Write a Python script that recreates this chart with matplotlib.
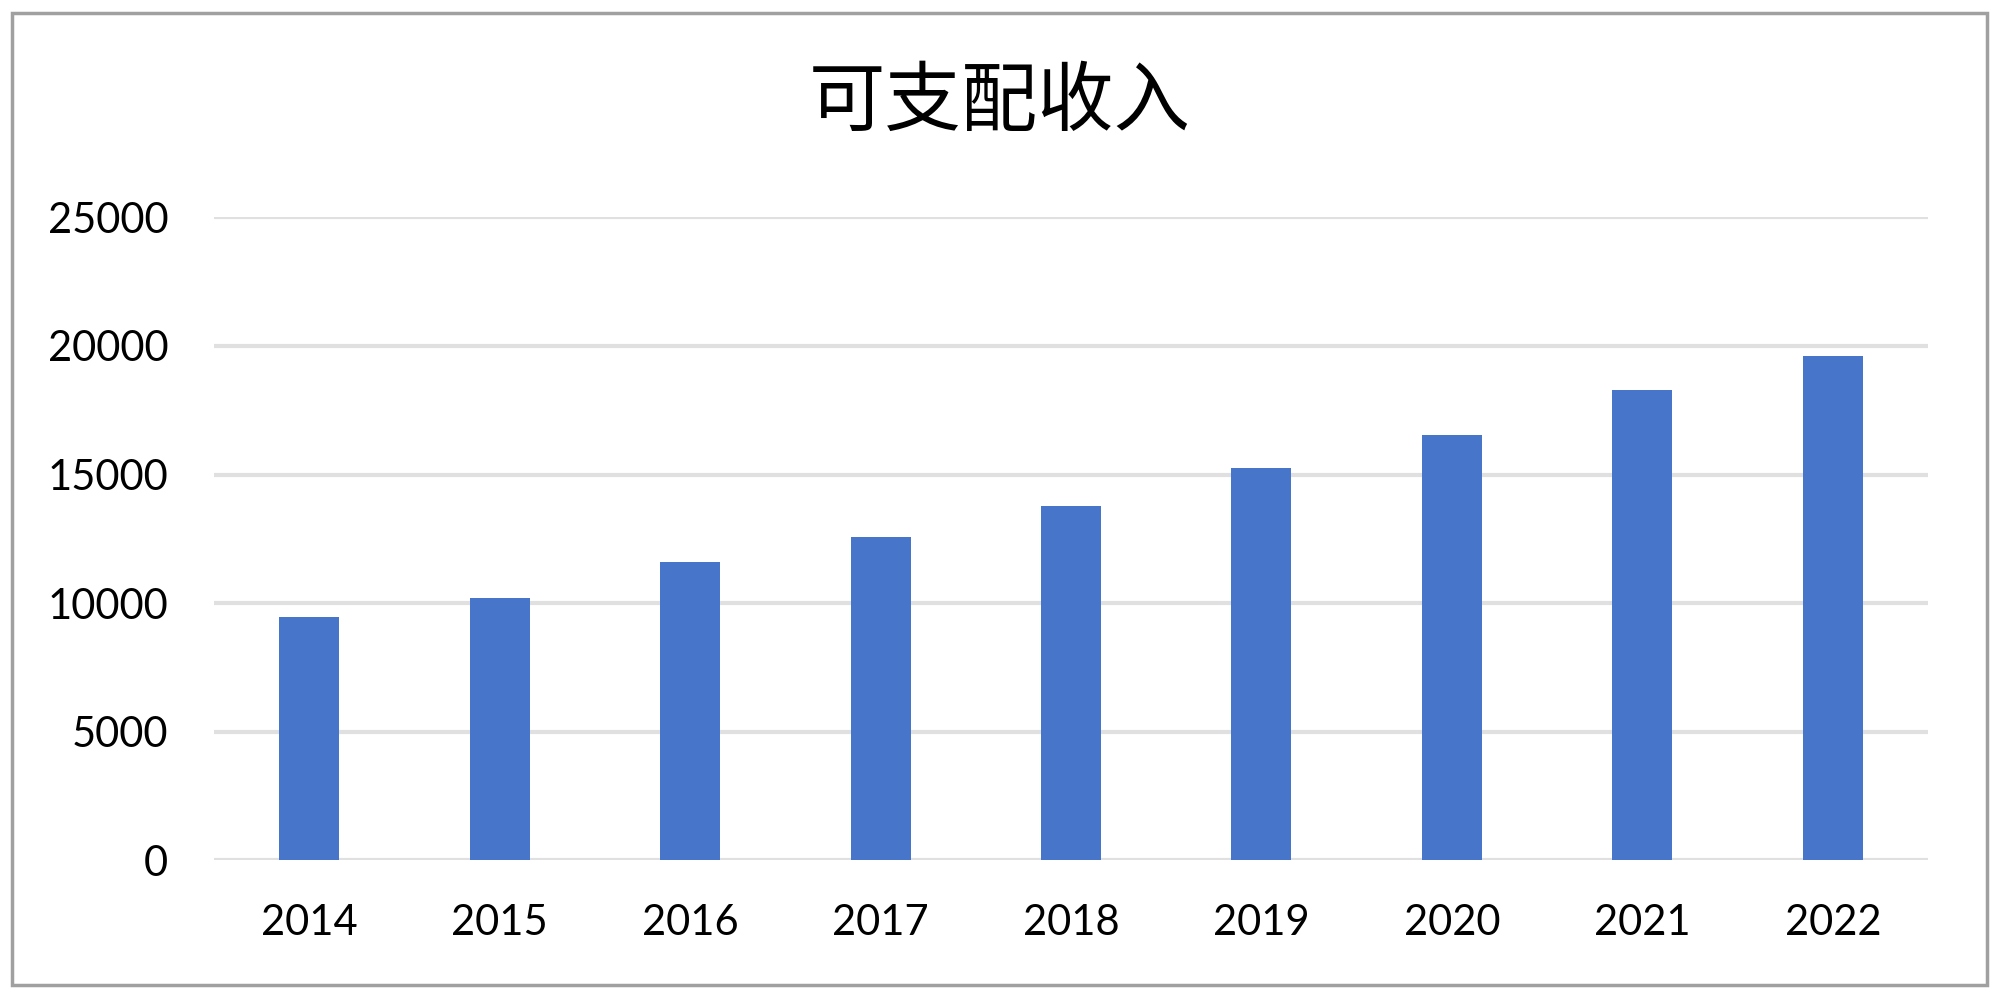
import matplotlib
matplotlib.use("Agg")
import matplotlib.pyplot as plt
from matplotlib.patches import Rectangle

# data
years = ["2014", "2015", "2016", "2017", "2018", "2019", "2020", "2021", "2022"]
income = [9440, 10210, 11600, 12570, 13790, 15260, 16540, 18300, 19610]
yticks = [0, 5000, 10000, 15000, 20000, 25000]
title = "可支配收入"

bar_color = "#4675C9"
grid_color = "#E0E0E0"

plt.rcParams["font.family"] = ["Lato", "DejaVu Sans"]

fig = plt.figure(figsize=(20, 9.99), dpi=100)
ax = fig.add_axes([0.107, 0.1391, 0.857, 0.6432])

x = range(len(years))
ax.bar(x, income, width=0.315, color=bar_color, zorder=3)

ax.set_xlim(-0.5, len(years) - 0.5)
ax.set_ylim(0, 25000)
ax.set_yticks(yticks)
ax.set_yticklabels([str(v) for v in yticks])
ax.set_xticks(list(x))
ax.set_xticklabels(years)

ax.yaxis.grid(True, color=grid_color, linewidth=3, zorder=0)
ax.set_axisbelow(True)
for s in ax.spines.values():
    s.set_visible(False)
ax.tick_params(axis="both", length=0, labelsize=30, colors="black")
ax.tick_params(axis="y", pad=33)
ax.tick_params(axis="x", pad=32)

fig.text(0.5, 1 - 103 / 999, title, ha="center", va="center",
         fontsize=55, family=["Noto Sans CJK SC", "DejaVu Sans"], color="black")

# outer chart frame
fig.patches.append(Rectangle((12 / 2000, 1 - 985 / 999), 1975 / 2000, 972 / 999,
                             transform=fig.transFigure, fill=False,
                             edgecolor="#A0A0A0", linewidth=2.5))

fig.savefig("out.png", dpi=100, facecolor="white")
